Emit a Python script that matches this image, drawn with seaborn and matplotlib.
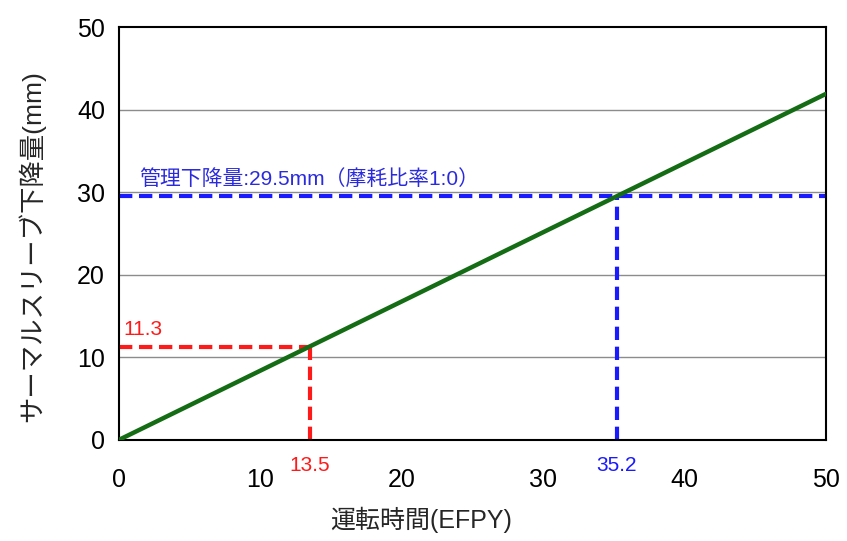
import matplotlib
matplotlib.use("Agg")
import matplotlib.pyplot as plt
import seaborn as sns
import pandas as pd

# Data
efpy = [0, 50]
drop_mm = [0, 41.9]
red_x, red_y = 13.5, 11.3
blue_x, blue_y = 35.2, 29.5
xticks = [0, 10, 20, 30, 40, 50]
yticks = [0, 10, 20, 30, 40, 50]
xlabel = "運転時間(EFPY)"
ylabel = "サーマルスリーブ下降量(mm)"
blue_label = "管理下降量:29.5mm（摩耗比率1:0）"

sns.set_theme(style="white")
plt.rcParams['font.family'] = ['Liberation Sans', 'Noto Sans CJK JP', 'DejaVu Sans']

fig = plt.figure(figsize=(8.47, 5.41), dpi=100)
ax = fig.add_axes([0.1405, 0.187, 0.975 - 0.1405, 0.950 - 0.187])

df = pd.DataFrame({"x": efpy, "y": drop_mm})

ax.set_xlim(0, 50)
ax.set_ylim(0, 50)
for yv in yticks[1:-1]:
    ax.axhline(yv, color="#8c8c8c", lw=1.0, zorder=1)

dash = (0, (3.2, 1.6))
# red guide
ax.plot([0, red_x], [red_y, red_y], color="#ff1a1a", lw=3, ls=dash, zorder=2)
ax.plot([red_x, red_x], [0, red_y], color="#ff1a1a", lw=3, ls=dash, zorder=2)
# blue guide
ax.plot([0, 50], [blue_y, blue_y], color="#1a1aff", lw=3, ls=dash, zorder=2)
ax.plot([blue_x, blue_x], [0, blue_y], color="#1a1aff", lw=3, ls=dash, zorder=2)

sns.lineplot(data=df, x="x", y="y", ax=ax, color="#146c14", lw=3.2, zorder=3)

ax.set_xticks(xticks)
ax.set_yticks(yticks)
ax.tick_params(axis="both", direction="in", length=7, width=1.2, labelsize=18,
               colors="black", pad=10)
ax.tick_params(axis="x", pad=20)
for s in ax.spines.values():
    s.set_color("black")
    s.set_linewidth(1.5)

ax.set_xlabel(xlabel, fontsize=18)
ax.xaxis.set_label_coords(0.427, -0.163)
ax.set_ylabel(ylabel, fontsize=19)
ax.yaxis.set_label_coords(-0.105, 0.47)

ax.text(0.3, red_y + 0.9, f"{red_y}", color="#ff1a1a", fontsize=15, ha="left", va="bottom")
ax.text(red_x, -2.0, f"{red_x}", color="#ff1a1a", fontsize=15, ha="center", va="top")
ax.text(blue_x, -2.0, f"{blue_x}", color="#1a1aff", fontsize=15, ha="center", va="top")
ax.text(1.4, blue_y + 0.9, blue_label, color="#2b2bdd", fontsize=15, ha="left", va="bottom")

fig.savefig("out.png", dpi=100)
